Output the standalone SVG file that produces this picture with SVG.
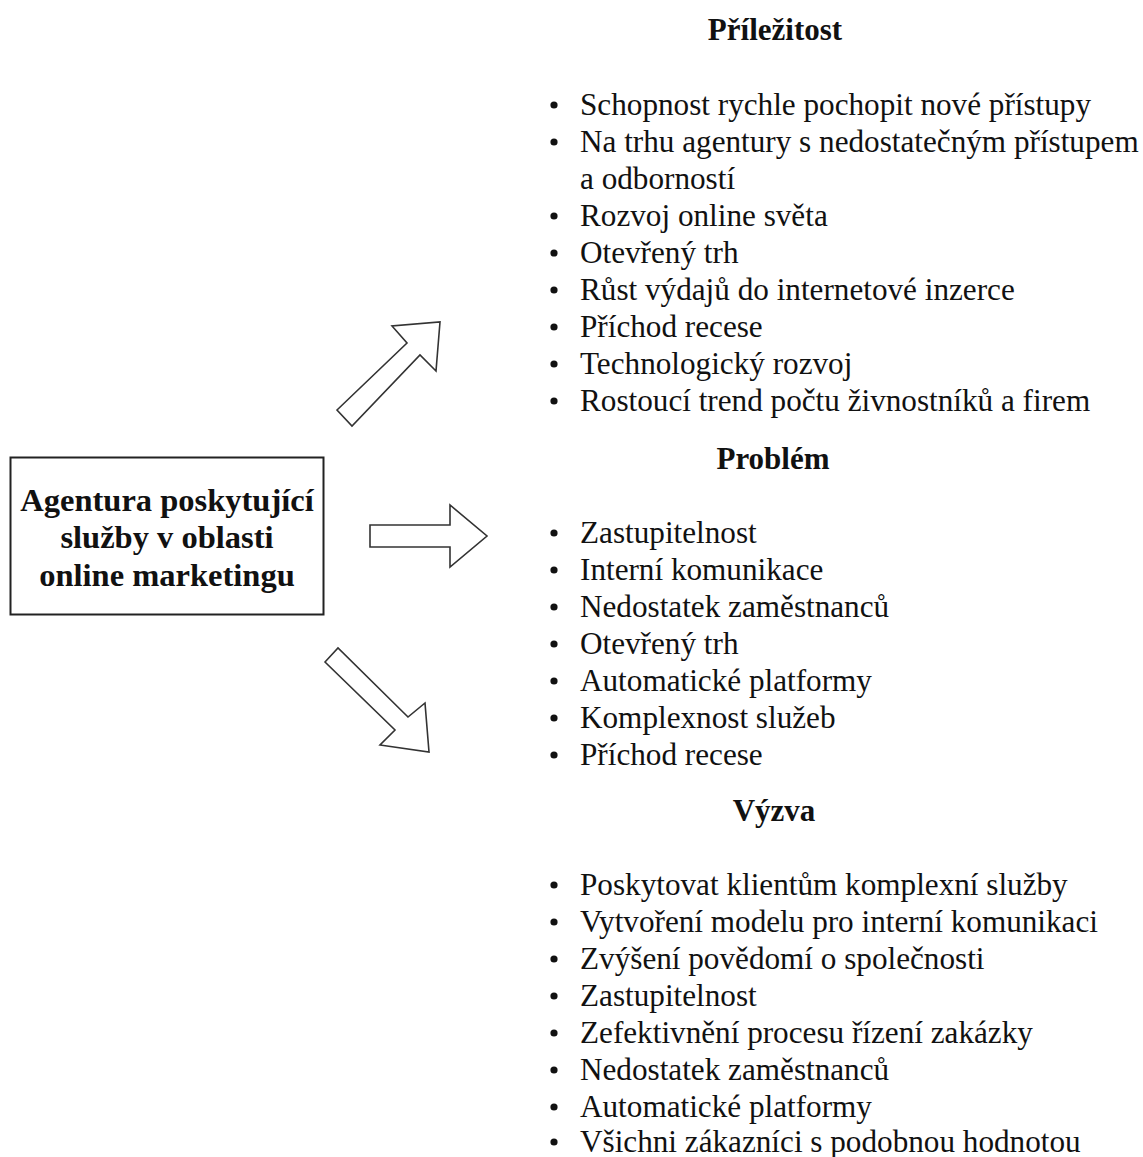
<svg xmlns="http://www.w3.org/2000/svg" width="1143" height="1157" viewBox="0 0 1143 1157">
<style>
text{font-family:"Liberation Serif","Times New Roman",serif;fill:#111}
.h{font-size:31px;font-weight:bold;text-anchor:middle}
.t text{font-size:31.2px}
.b{font-size:32.5px;font-weight:bold;text-anchor:middle}
.arr{fill:#fff;stroke:#333;stroke-width:1.6;stroke-linejoin:miter}
</style>
<rect width="1143" height="1157" fill="#fff"/>
<g id="center">
<rect x="10.5" y="457.5" width="313" height="157" fill="#fff" stroke="#222" stroke-width="2"/>
<text class="b" x="167" y="511">Agentura poskytující</text>
<text class="b" x="167" y="548">služby v oblasti</text>
<text class="b" x="167" y="586">online marketingu</text>
</g>
<g id="connectors">
<polygon class="arr" points="337,410 407,343 392,326 440,322 436,371 420,355 352,426"/>
<polygon class="arr" points="370,525 450,525 450,505 487,536 450,567 450,547 370,547"/>
<polygon class="arr" points="325,662 338,648 408,717 425,703 429,752 380,745 395,730"/>
</g>
<g id="prilezitost">
<text class="h" x="775" y="40">Příležitost</text>
<g class="t">
<text x="580" y="115">Schopnost rychle pochopit nové přístupy</text>
<text x="580" y="152">Na trhu agentury s nedostatečným přístupem</text>
<text x="580" y="189">a odborností</text>
<text x="580" y="226">Rozvoj online světa</text>
<text x="580" y="263">Otevřený trh</text>
<text x="580" y="300">Růst výdajů do internetové inzerce</text>
<text x="580" y="337">Příchod recese</text>
<text x="580" y="374">Technologický rozvoj</text>
<text x="580" y="411">Rostoucí trend počtu živnostníků a firem</text>
</g>
<g fill="#111">
<circle cx="554" cy="105" r="3.6"/><circle cx="554" cy="142" r="3.6"/><circle cx="554" cy="216" r="3.6"/><circle cx="554" cy="253" r="3.6"/><circle cx="554" cy="290" r="3.6"/><circle cx="554" cy="327" r="3.6"/><circle cx="554" cy="364" r="3.6"/><circle cx="554" cy="401" r="3.6"/>
</g>
</g>
<g id="problem">
<text class="h" x="773" y="469">Problém</text>
<g class="t">
<text x="580" y="543">Zastupitelnost</text>
<text x="580" y="580">Interní komunikace</text>
<text x="580" y="617">Nedostatek zaměstnanců</text>
<text x="580" y="654">Otevřený trh</text>
<text x="580" y="691">Automatické platformy</text>
<text x="580" y="728">Komplexnost služeb</text>
<text x="580" y="765">Příchod recese</text>
</g>
<g fill="#111">
<circle cx="554" cy="533" r="3.6"/><circle cx="554" cy="570" r="3.6"/><circle cx="554" cy="607" r="3.6"/><circle cx="554" cy="644" r="3.6"/><circle cx="554" cy="681" r="3.6"/><circle cx="554" cy="718" r="3.6"/><circle cx="554" cy="755" r="3.6"/>
</g>
</g>
<g id="vyzva">
<text class="h" x="774" y="821">Výzva</text>
<g class="t">
<text x="580" y="895">Poskytovat klientům komplexní služby</text>
<text x="580" y="932">Vytvoření modelu pro interní komunikaci</text>
<text x="580" y="969">Zvýšení povědomí o společnosti</text>
<text x="580" y="1006">Zastupitelnost</text>
<text x="580" y="1043">Zefektivnění procesu řízení zakázky</text>
<text x="580" y="1080">Nedostatek zaměstnanců</text>
<text x="580" y="1117">Automatické platformy</text>
<text x="580" y="1152">Všichni zákazníci s podobnou hodnotou</text>
</g>
<g fill="#111">
<circle cx="554" cy="885" r="3.6"/><circle cx="554" cy="922" r="3.6"/><circle cx="554" cy="959" r="3.6"/><circle cx="554" cy="996" r="3.6"/><circle cx="554" cy="1033" r="3.6"/><circle cx="554" cy="1070" r="3.6"/><circle cx="554" cy="1107" r="3.6"/><circle cx="554" cy="1142" r="3.6"/>
</g>
</g>
</svg>
